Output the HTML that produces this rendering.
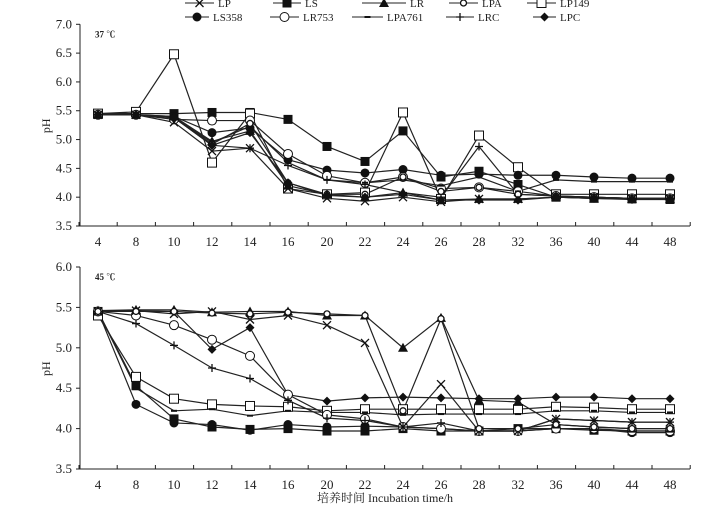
<!DOCTYPE html>
<html><head><meta charset="utf-8"><style>
body{margin:0;background:#fff;}
svg{display:block;font-family:"Liberation Serif","Noto Serif CJK SC",serif;}
</style></head><body>
<svg id="s" width="723" height="512" xmlns="http://www.w3.org/2000/svg"></svg>
<script>
(function(){
const xs=[98,136,174,212,250,288,327,365,403,441,479,518,556,594,632,670];
const xl=["4","8","10","12","14","16","20","22","24","26","28","32","36","40","44","48"];
const topData={
LS:[5.45,5.45,5.45,5.47,5.47,5.35,4.88,4.62,5.15,4.35,4.45,4.22,4.0,3.98,3.97,3.96],
LP149:[5.45,5.48,6.48,4.6,5.45,4.15,4.05,4.08,5.47,3.97,5.07,4.52,4.05,4.05,4.05,4.05],
LS358:[5.43,5.43,5.4,5.12,5.2,4.65,4.47,4.42,4.48,4.38,4.4,4.38,4.38,4.35,4.33,4.33],
LR753:[5.43,5.43,5.35,5.33,5.33,4.75,4.37,4.25,4.35,4.15,4.17,4.1,4.02,4.0,3.98,3.98],
LPA761:[5.43,5.43,5.38,4.95,5.23,4.6,4.3,4.25,4.3,4.2,4.35,4.1,4.3,4.27,4.27,4.27],
LRC:[5.43,5.43,5.38,4.9,4.85,4.55,4.3,4.22,4.08,4.0,4.88,4.05,4.02,4.0,3.98,3.98],
LP:[5.43,5.43,5.3,4.8,4.85,4.15,3.98,3.93,4.0,3.92,3.97,3.97,4.0,4.0,3.98,3.98],
LR:[5.43,5.43,5.4,4.97,5.15,4.2,4.05,4.0,4.08,3.95,3.97,3.97,4.0,3.98,3.97,3.97],
LPA:[5.43,5.43,5.38,4.92,5.28,4.25,4.05,4.05,4.35,4.1,4.17,4.05,4.02,4.0,3.98,3.98],
LPC:[5.43,5.43,5.38,4.9,5.12,4.25,4.03,4.0,4.05,3.95,3.95,3.95,4.0,3.98,3.96,3.96]};
const botData={
LS:[5.45,4.53,4.12,4.02,3.99,4.0,3.97,3.97,4.0,3.97,3.97,4.0,4.0,3.98,3.97,3.97],
LS358:[5.45,4.3,4.07,4.05,3.98,4.05,4.02,4.03,4.02,4.0,3.97,3.97,4.0,4.0,3.95,3.95],
LP149:[5.4,4.64,4.37,4.3,4.28,4.27,4.22,4.24,4.24,4.24,4.24,4.24,4.27,4.26,4.24,4.24],
LPA761:[5.45,4.5,4.22,4.24,4.16,4.22,4.2,4.2,4.17,4.18,4.18,4.18,4.22,4.22,4.2,4.2],
LPC:[5.45,5.46,5.45,4.98,5.25,4.42,4.34,4.38,4.39,4.38,4.37,4.37,4.39,4.39,4.37,4.37],
LR753:[5.45,5.4,5.28,5.1,4.9,4.42,4.17,4.12,4.02,4.0,3.97,3.97,4.0,4.0,3.97,3.97],
LRC:[5.45,5.3,5.03,4.75,4.62,4.35,4.13,4.1,4.02,4.07,3.97,3.97,4.12,4.1,4.08,4.08],
LP:[5.45,5.46,5.42,5.45,5.35,5.4,5.28,5.06,4.02,4.55,3.97,3.97,4.12,4.1,4.08,4.08],
LR:[5.46,5.47,5.47,5.44,5.45,5.45,5.4,5.4,5.0,5.37,4.35,4.33,4.05,4.02,4.0,4.0],
LPA:[5.45,5.45,5.45,5.43,5.42,5.44,5.42,5.4,4.22,5.36,4.0,4.0,4.05,4.02,4.0,4.0]};
let o='';
function mk(n,x,y){
 switch(n){
 case 'LP':return `<path d="M${x-4},${y-4}L${x+4},${y+4}M${x-4},${y+4}L${x+4},${y-4}" stroke="#111" stroke-width="1.3"/>`;
 case 'LS':return `<rect x="${x-4.5}" y="${y-4.5}" width="9" height="9" fill="#111"/>`;
 case 'LR':return `<path d="M${x},${y-5}L${x+5},${y+4}L${x-5},${y+4}Z" fill="#111"/>`;
 case 'LPA':return `<circle cx="${x}" cy="${y}" r="3" fill="#fff" stroke="#111" stroke-width="1.3"/>`;
 case 'LP149':return `<rect x="${x-4.5}" y="${y-4.5}" width="9" height="9" fill="#fff" stroke="#111"/>`;
 case 'LS358':return `<circle cx="${x}" cy="${y}" r="4.5" fill="#111"/>`;
 case 'LR753':return `<circle cx="${x}" cy="${y}" r="4.5" fill="#fff" stroke="#111"/>`;
 case 'LPA761':return `<rect x="${x-3}" y="${y-1}" width="6" height="2" fill="#111"/>`;
 case 'LRC':return `<path d="M${x-4},${y}L${x+4},${y}M${x},${y-4}L${x},${y+4}" stroke="#111" stroke-width="1.3"/>`;
 case 'LPC':return `<path d="M${x},${y-4.5}L${x+4.5},${y}L${x},${y+4.5}L${x-4.5},${y}Z" fill="#111"/>`;
 }}
function chart(d,ymin,ymax,yTop,yBot,ticks,label){
 const Y=v=>yBot-(v-ymin)/(ymax-ymin)*(yBot-yTop);
 o+=`<line x1="80" y1="${yTop}" x2="80" y2="${yBot}" stroke="#222"/><line x1="80" y1="${yBot}" x2="690" y2="${yBot}" stroke="#222"/>`;
 ticks.forEach(t=>{const y=Y(t);o+=`<line x1="76" y1="${y}" x2="80" y2="${y}" stroke="#222"/><text x="72" y="${y+4}" font-size="13" text-anchor="end" fill="#222">${t.toFixed(1)}</text>`;});
 for(let i=0;i<=16;i++){const x=79+i*38.2;o+=`<line x1="${x}" y1="${yBot}" x2="${x}" y2="${yBot-4}" stroke="#222"/>`;}
 xs.forEach((x,i)=>o+=`<text x="${x}" y="${yBot+20}" font-size="13" text-anchor="middle" fill="#222">${xl[i]}</text>`);
 o+=`<text x="95" y="${yTop+13}" font-size="9" font-weight="bold" fill="#222">${label}</text>`;
 o+=`<text x="0" y="0" font-size="12" fill="#222" transform="translate(50,${(yTop+yBot)/2+8}) rotate(-90)">pH</text>`;
 for(const k in d){const p=d[k].map((v,i)=>xs[i]+','+Y(v)).join(' ');o+=`<polyline points="${p}" fill="none" stroke="#222" stroke-width="1.2"/>`;}
 for(const k in d){d[k].forEach((v,i)=>o+=mk(k,xs[i],Y(v)));}
}
chart(topData,3.5,7.0,24.3,226,[3.5,4,4.5,5,5.5,6,6.5,7],'37 ℃');
chart(botData,3.5,6.0,267,469,[3.5,4,4.5,5,5.5,6],'45 ℃');
o+=`<text x="385" y="502" font-size="12" text-anchor="middle" fill="#222">培养时间 Incubation time/h</text>`;
const leg=[['LP',185,218,3],['LS',273,305,3],['LR',362,410,3],['LPA',449,482,3],['LP149',527,560,3],
['LS358',185,213,17],['LR753',270,303,17],['LPA761',352,387,17],['LRC',446,478,17],['LPC',533,560,17]];
leg.forEach(([n,x1,tx,y])=>{o+=`<line x1="${x1}" y1="${y}" x2="${tx-4}" y2="${y}" stroke="#222"/>`+mk(n,(x1+tx-4)/2,y)+`<text x="${tx}" y="${y+4}" font-size="11" fill="#222">${n}</text>`;});
document.getElementById('s').innerHTML=o;
})();
</script>
</body></html>
